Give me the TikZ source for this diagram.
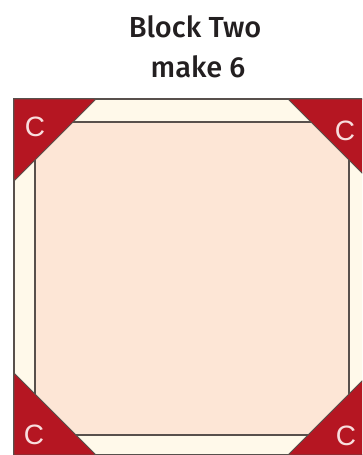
\documentclass[tikz,border=0pt]{standalone}
\usepackage{fontspec}
\setmainfont{Liberation Sans}
\newfontfamily\titlefont{Fira Sans}[UprightFont=* Medium]
\usepackage{tikz}

\definecolor{quiltred}{RGB}{181,22,34}
\definecolor{quiltcream}{RGB}{255,249,234}
\definecolor{quiltpeach}{RGB}{253,230,214}
\definecolor{quiltline}{RGB}{88,80,76}
\definecolor{quiltletter}{RGB}{248,222,222}
\definecolor{quilttext}{RGB}{35,31,32}

\begin{document}
\begin{tikzpicture}[x=1pt,y=-1pt,
    corner/.style={fill=quiltred, draw=quiltline, line width=0.9pt, line join=round},
    letter/.style={text=quiltletter, font=\fontsize{28}{28}\selectfont, inner sep=0pt},
    title/.style={anchor=base, text=quilttext, font=\titlefont\fontsize{29}{29}\selectfont}]
    \clip (0,0) rectangle (362,455);
    \fill[white] (0,0) rectangle (362,455);

    \node[title] (block) at (195,37) {Block Two};
    \node[title] (make) at (198,77) {make 6};

    % outer border and centre square
    \draw[fill=quiltcream, draw=quiltline, line width=1.6pt] (14,99) rectangle (370,455);
    \draw[fill=quiltpeach, draw=quiltline, line width=1.3pt] (35,122) rectangle (349,435);

    % corner triangles
    \draw[corner] (14,99) -- (96,99) -- (14,181) -- cycle;
    \draw[corner] (370,99) -- (288,99) -- (370,181) -- cycle;
    \draw[corner] (14,455) -- (14,373) -- (96,455) -- cycle;
    \draw[corner] (370,455) -- (370,373) -- (288,455) -- cycle;

    \node[letter] (c1) at (35,127) {C};
    \node[letter] (c2) at (345,131) {C};
    \node[letter] (c3) at (34,435) {C};
    \node[letter] (c4) at (346,436) {C};
\end{tikzpicture}
\end{document}
